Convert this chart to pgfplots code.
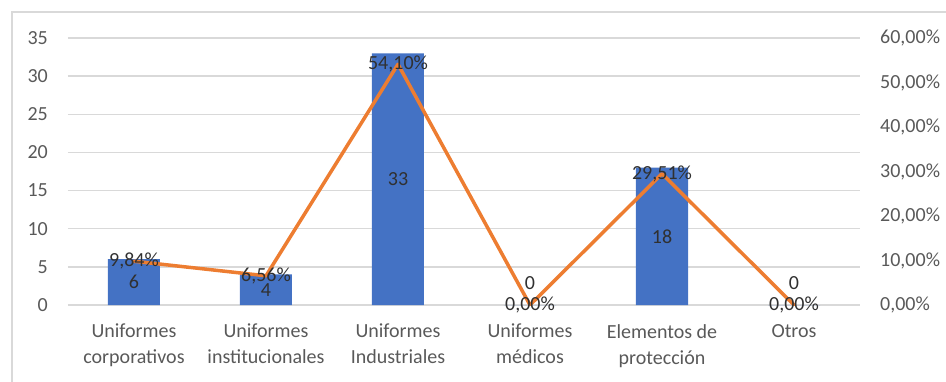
\documentclass[border=0pt]{standalone}
\usepackage{pgfplots}
\pgfplotsset{compat=1.18}
\usepackage{fontspec}
\setmainfont{Carlito}

\definecolor{barblue}{HTML}{4472C4}
\definecolor{lineorange}{HTML}{ED7D31}
\definecolor{gridgray}{HTML}{D9D9D9}
\definecolor{ticktext}{HTML}{595959}
\definecolor{labeltext}{HTML}{303030}

\pgfplotsset{
  base/.style={
    scale only axis, width=792pt, height=267pt,
    at={(0,0)}, anchor=south west,
    xmin=-0.5, xmax=5.5,
    axis line style={draw=none},
    major tick length=0pt,
    tick label style={font=\fontsize{20}{26}\selectfont, text=ticktext},
    /pgf/number format/assume math mode=true,
  }
}

\begin{document}
\begin{tikzpicture}
\path[use as bounding box] (-68pt,-76pt) rectangle (878pt,305pt);

% units per category (left axis)
\begin{axis}[base,
  ymin=0, ymax=35, ytick={0,5,...,35},
  ymajorgrids, grid style={gridgray, line width=1.5pt},
  xtick={0,...,5},
  xticklabels={{Uniformes\\corporativos},{Uniformes\\institucionales},{Uniformes\\Industriales},{Uniformes\\médicos},{Elementos de\\protección},{Otros}},
  xticklabel style={align=center, anchor=north, inner sep=0pt, yshift=-19pt},
  yticklabel style={anchor=east, inner sep=0pt, xshift=-20pt},
  ybar, bar width=52pt,
]
\addplot[fill=barblue, draw=none,
  visualization depends on={rawy \as \rawy},
  nodes near coords,
  every node near coord/.append style={anchor=center, inner sep=0pt,
    font=\fontsize{20}{24}\selectfont, text=labeltext,
    yshift={ifthenelse(\rawy==0,22,-3.8143*\rawy)}},
] table {
x y
0 6
1 4
2 33
3 0
4 18
5 0
};
\end{axis}

% share of the total (right axis)
\begin{axis}[base,
  ymin=0, ymax=60, ytick={0,10,...,60},
  yticklabels={{0,00\%},{10,00\%},{20,00\%},{30,00\%},{40,00\%},{50,00\%},{60,00\%}},
  yticklabel pos=right,
  yticklabel style={anchor=west, inner sep=0pt, xshift=20pt},
  xtick=\empty,
]
\addplot[lineorange, line width=3.5pt, mark=none, line join=round, line cap=round,
  nodes near coords={\pgfmathprintnumber[fixed,fixed zerofill,precision=2,use comma]{\pgfplotspointmeta}\%},
  every node near coord/.append style={anchor=center, inner sep=0pt,
    font=\fontsize{20}{24}\selectfont, text=labeltext},
] table {
x y
0 9.84
1 6.56
2 54.10
3 0
4 29.51
5 0
};
\end{axis}

\draw[gridgray, line width=1.5pt] (-56pt,-80pt) -- (-56pt,293pt) -- (890pt,293pt);
\end{tikzpicture}
\end{document}
